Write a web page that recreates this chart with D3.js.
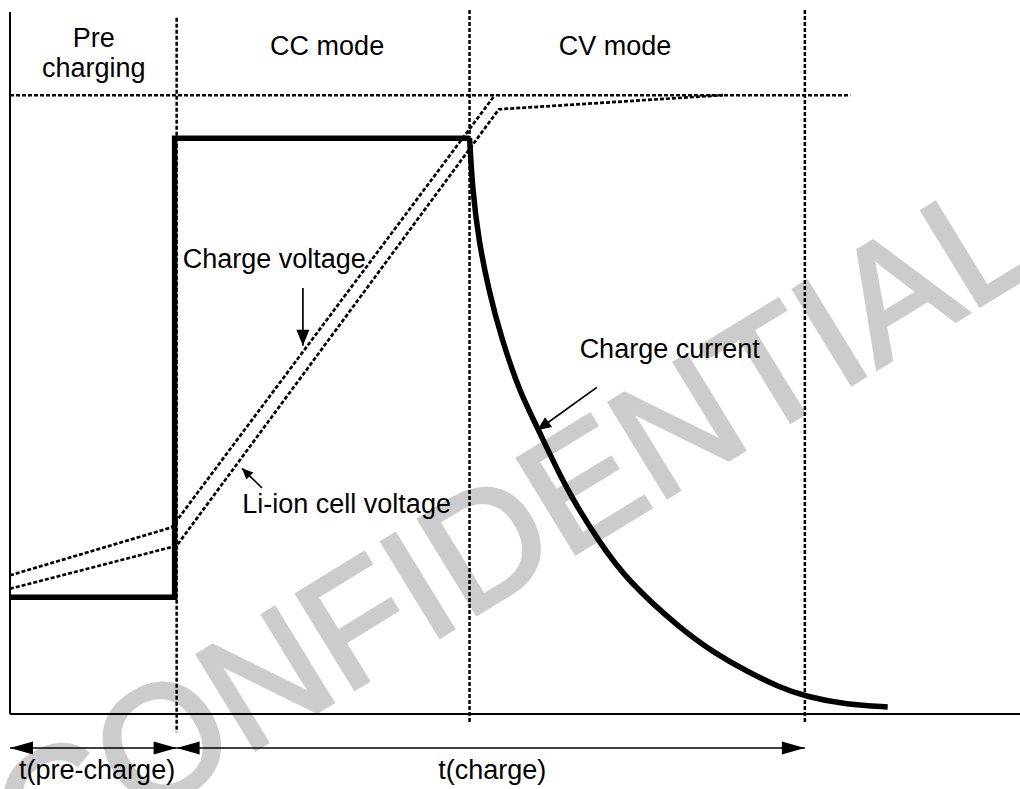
<!DOCTYPE html>
<html>
<head>
<meta charset="utf-8">
<script src="https://cdn.jsdelivr.net/npm/d3@7"></script>
<style>
  body { margin: 0; background: #fff; }
  text { font-family: "Liberation Sans", Arial, sans-serif; }
</style>
</head>
<body>
<div id="chart"></div>
<script>
// phase boundaries (time units)
var phaseEdges = [16.5, 45.5, 78.7];
var phaseTops = [98.9, 100, 100];
var phaseBottoms = [-2.6, -1.3, -1.3];
var phaseLabels = [["Pre", "charging"], ["CC mode"], ["CV mode"]];
var phaseLabelX = [8.3, 31.4, 59.9];

// regulation voltage level
var regLevel = 87.9;
var regEnd = 83.2;

// charge current: pre-charge level, step, CC level, then CV decay
var currentT = [0, 16.3, 16.3, 45.5, 45.8, 46.4, 47.4, 48.6, 50.5, 52.2, 55.1, 58.4, 61.1, 66.3, 69.6, 73.0, 76.2, 78.7, 82.9, 86.9];
var currentV = [16.6, 16.6, 81.8, 81.8, 74.4, 67.3, 60.2, 53.6, 45.6, 40.8, 31.8, 24.3, 19.0, 12.2, 8.8, 6.0, 3.8, 2.5, 1.3, 1.0];

// charge voltage and cell voltage
var chargeVT = [0, 16.0, 48.0];
var chargeVV = [19.7, 26.5, 87.9];
var cellVT = [0, 16.5, 48.4, 70.6];
var cellVV = [17.8, 23.9, 85.9, 87.9];

// annotation labels and arrows
var notes = ["Charge voltage", "Li-ion cell voltage", "Charge current"];
var noteT = [17.1, 23.0, 56.4];
var noteV = [63.4, 28.5, 50.6];
var arrowFrom = [[29.0, 60.5], [24.95, 32.1], [58.1, 46.4]];
var arrowTo = [[29.0, 52.3], [22.97, 34.9], [52.2, 40.3]];

// time span arrows under the axis
var spanLabels = ["t(pre-charge)", "t(charge)"];
var spanStart = [0, 16.5];
var spanEnd = [16.5, 78.7];
var spanLabelT = [0.9, 42.4];

var width = 1020, height = 789;

var x = d3.scaleLinear().domain([0, 100]).range([10, 1020]);
var y = d3.scaleLinear().domain([0, 100]).range([714, 10]);

var svg = d3.select("#chart")
    .append("svg")
    .attr("width", width)
    .attr("height", height);

// watermark goes underneath everything
svg.append("text")
    .attr("transform", "translate(542,574) rotate(-31.5)")
    .attr("text-anchor", "middle")
    .style("font-size", "161px")
    .style("fill", "#cccccc")
    .style("stroke", "#cccccc")
    .style("stroke-width", 4)
    .text("CONFIDENTIAL");

// axes (no ticks, just the two lines)
svg.append("line")
    .attr("x1", x(0)).attr("x2", x(0))
    .attr("y1", 12).attr("y2", y(0))
    .style("stroke", "#000").style("stroke-width", 2);
svg.append("line")
    .attr("x1", x(0)).attr("x2", x(100))
    .attr("y1", y(0)).attr("y2", y(0))
    .style("stroke", "#000").style("stroke-width", 2);

// dotted phase lines
svg.selectAll(".phase")
    .data(phaseEdges)
    .enter().append("line")
    .attr("class", "phase")
    .attr("x1", function(d) { return x(d); })
    .attr("x2", function(d) { return x(d); })
    .attr("y1", function(d, i) { return y(phaseTops[i]); })
    .attr("y2", function(d, i) { return y(phaseBottoms[i]); })
    .style("stroke", "#000")
    .style("stroke-width", 2.5)
    .style("stroke-dasharray", "4,2");

svg.append("line")
    .attr("x1", x(0)).attr("x2", x(regEnd))
    .attr("y1", y(regLevel)).attr("y2", y(regLevel))
    .style("stroke", "#000")
    .style("stroke-width", 2.5)
    .style("stroke-dasharray", "4,2");

// phase titles
phaseLabels.forEach(function(lines, i) {
    lines.forEach(function(s, j) {
        svg.append("text")
            .attr("x", x(phaseLabelX[i]))
            .attr("y", lines.length > 1 ? 47 + j * 30 : 55)
            .attr("text-anchor", "middle")
            .style("font-size", "27px")
            .text(s);
    });
});

var line = d3.line()
    .x(function(d) { return x(d[0]); })
    .y(function(d) { return y(d[1]); });

// voltage curves
[[chargeVT, chargeVV], [cellVT, cellVV]].forEach(function(s) {
    svg.append("path")
        .datum(d3.zip(s[0], s[1]))
        .attr("d", line)
        .style("fill", "none")
        .style("stroke", "#000")
        .style("stroke-width", 2.7)
        .style("stroke-dasharray", "4,2");
});

// charge current: straight steps then smooth decay
var cur = d3.zip(currentT, currentV);
svg.append("path")
    .datum(cur.slice(0, 4))
    .attr("d", line)
    .style("fill", "none")
    .style("stroke", "#000")
    .style("stroke-width", 5.5)
    .style("stroke-linejoin", "miter");
svg.append("path")
    .datum(cur.slice(3))
    .attr("d", d3.line()
        .x(function(d) { return x(d[0]); })
        .y(function(d) { return y(d[1]); })
        .curve(d3.curveBasis))
    .style("fill", "none")
    .style("stroke", "#000")
    .style("stroke-width", 5.5);

// arrow head helper, tip at (x2,y2) in pixels
function head(x1, y1, x2, y2, len, half) {
    var a = Math.atan2(y2 - y1, x2 - x1);
    var bx = x2 - len * Math.cos(a), by = y2 - len * Math.sin(a);
    var px = -Math.sin(a) * half, py = Math.cos(a) * half;
    svg.append("path")
        .attr("d", "M" + x2 + "," + y2 + "L" + (bx + px) + "," + (by + py) + "L" + (bx - px) + "," + (by - py) + "Z")
        .style("fill", "#000");
}

function arrow(x1, y1, x2, y2, len, half, both) {
    svg.append("line")
        .attr("x1", x1).attr("y1", y1)
        .attr("x2", x2).attr("y2", y2)
        .style("stroke", "#000")
        .style("stroke-width", 1.7);
    head(x1, y1, x2, y2, len, half);
    if (both) head(x2, y2, x1, y1, len, half);
}

var headLen = [16, 11, 14], headHalf = [6.5, 5, 6];
notes.forEach(function(s, i) {
    svg.append("text")
        .attr("x", x(noteT[i]))
        .attr("y", y(noteV[i]))
        .style("font-size", "27px")
        .text(s);
    arrow(x(arrowFrom[i][0]), y(arrowFrom[i][1]), x(arrowTo[i][0]), y(arrowTo[i][1]), headLen[i], headHalf[i], false);
});

// duration arrows
spanLabels.forEach(function(s, i) {
    arrow(x(spanStart[i]), 748, x(spanEnd[i]), 748, 23, 6.5, true);
    svg.append("text")
        .attr("x", x(spanLabelT[i]))
        .attr("y", 779)
        .style("font-size", "27px")
        .text(s);
});
</script>
</body>
</html>
